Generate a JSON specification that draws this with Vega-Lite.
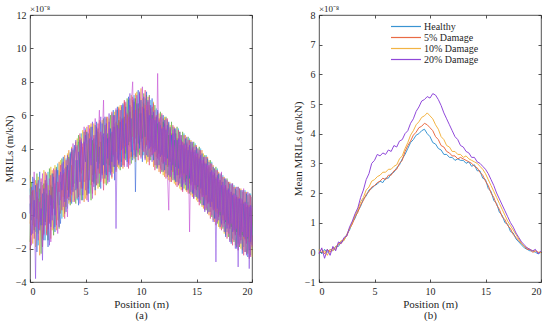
{
"$schema":"https://vega.github.io/schema/vega-lite/v6.json",
"background":"white",
"padding":{"left":2,"top":4,"right":4,"bottom":0},
"spacing":35,
"resolve":{"scale":{"color":"independent"},"legend":{"color":"independent"}},
"config":{
 "font":"Liberation Serif",
 "view":{"stroke":"#262626","strokeWidth":0.8},
 "axis":{"grid":false,"domain":false,"tickColor":"#262626","tickSize":-3,"tickWidth":0.8,"labelFont":"Liberation Serif","labelFontSize":10,"labelColor":"#262626","titleFont":"Liberation Serif","titleFontSize":11,"titleFontWeight":"normal","titleColor":"#262626","titleLineHeight":11.5},
 "axisX":{"labelPadding":7,"titlePadding":2},
 "axisY":{"labelPadding":7,"titlePadding":1},
 "legend":{"labelFont":"Liberation Serif","padding":0},
 "title":{"font":"Liberation Serif","fontSize":9,"fontWeight":"normal","color":"#262626","anchor":"start","frame":"group","offset":-4}
},
"datasets":{
"raw":[
{"p":0,"a":1.6,"b":-0.5,"c":2.4,"d":-1.6,"e":0.7,"f":-2.1,"g":1.2,"h":0.1},
{"p":0.125,"a":-0.3,"b":1.4,"c":0.9,"d":2.0,"e":-1.2,"f":0.5,"g":-1.8,"h":1.7},
{"p":0.25,"a":0.8,"b":-1.7,"c":-0.6,"d":1.1,"e":2.3,"f":1.5,"g":0.2,"h":-1.1},
{"p":0.375,"a":2.2,"b":0.6,"c":1.5,"d":-0.9,"e":-0.1,"f":-1.4,"g":2.6,"h":0.9},
{"p":0.5,"a":-1.0,"b":2.1,"c":-1.9,"d":0.3,"e":1.8,"f":0.4,"g":-0.7,"h":-3.8},
{"p":0.625,"a":1.1,"b":-0.2,"c":0.7,"d":2.5,"e":-2.2,"f":1.9,"g":1.4,"h":1.3},
{"p":0.75,"a":-1.8,"b":1.0,"c":2.3,"d":-1.1,"e":0.9,"f":-0.8,"g":-1.5,"h":2.1},
{"p":0.875,"a":0.5,"b":-2.4,"c":-0.4,"d":1.6,"e":2.6,"f":0.2,"g":0.8,"h":-0.9},
{"p":1,"a":2.0,"b":0.8,"c":1.1,"d":-2.3,"e":-0.6,"f":2.2,"g":-0.3,"h":0.4},
{"p":1.125,"a":-0.6,"b":1.8,"c":-1.4,"d":0.5,"e":1.3,"f":-1.9,"g":2.5,"h":-2.7},
{"p":1.25,"a":1.4,"b":-1.1,"c":2.7,"d":1.9,"e":-1.5,"f":0.9,"g":-1.2,"h":1.6},
{"p":1.375,"a":-1.5,"b":0.3,"c":0.2,"d":-0.4,"e":2.1,"f":2.6,"g":0.6,"h":-0.6},
{"p":1.5,"a":0.9,"b":2.5,"c":-1.1,"d":1.3,"e":0.1,"f":-1.2,"g":1.9,"h":2.4},
{"p":1.625,"a":2.6,"b":-0.8,"c":1.8,"d":-1.5,"e":-1.9,"f":1.2,"g":-0.9,"h":0.7},
{"p":1.75,"a":-0.4,"b":1.3,"c":0.4,"d":2.8,"e":1.5,"f":-0.5,"g":2.2,"h":-1.8},
{"p":1.875,"a":1.8,"b":-1.4,"c":2.9,"d":0.6,"e":-0.7,"f":2.4,"g":-1.6,"h":1.2},
{"p":2,"a":0.2,"b":2.7,"c":-0.9,"d":1.7,"e":2.5,"f":0.0,"g":1.0,"h":-0.3},
{"p":2.125,"a":2.5,"b":0.4,"c":1.6,"d":-1.2,"e":0.7,"f":2.8,"g":-0.8,"h":2.3},
{"p":2.25,"a":-0.7,"b":1.9,"c":3.0,"d":0.9,"e":-1.0,"f":1.1,"g":2.7,"h":0.0},
{"p":2.375,"a":1.3,"b":-0.9,"c":0.5,"d":2.9,"e":1.9,"f":-0.6,"g":0.3,"h":2.8},
{"p":2.5,"a":3.1,"b":1.5,"c":-0.3,"d":0.4,"e":2.7,"f":2.0,"g":-1.1,"h":1.0},
{"p":2.625,"a":0.6,"b":3.2,"c":2.2,"d":-0.8,"e":0.3,"f":1.4,"g":2.4,"h":-0.7},
{"p":2.75,"a":2.0,"b":0.1,"c":3.3,"d":1.8,"e":-0.5,"f":3.0,"g":0.9,"h":2.6},
{"p":2.875,"a":-0.2,"b":2.4,"c":1.0,"d":3.4,"e":2.2,"f":0.3,"g":3.1,"h":1.5},
{"p":3,"a":2.7,"b":1.1,"c":-0.1,"d":1.2,"e":3.5,"f":2.5,"g":0.5,"h":3.2},
{"p":3.125,"a":1.0,"b":3.6,"c":2.6,"d":0.1,"e":1.4,"f":-0.2,"g":2.8,"h":0.8},
{"p":3.25,"a":3.4,"b":0.5,"c":1.3,"d":2.9,"e":0.2,"f":3.3,"g":1.6,"h":2.1},
{"p":3.375,"a":0.4,"b":2.8,"c":3.7,"d":1.5,"e":3.0,"f":1.0,"g":-0.1,"h":3.6},
{"p":3.5,"a":2.3,"b":3.9,"c":0.7,"d":3.5,"e":1.1,"f":2.7,"g":3.4,"h":0.9},
{"p":3.625,"a":3.8,"b":1.3,"c":2.9,"d":0.6,"e":3.7,"f":0.8,"g":2.0,"h":3.0},
{"p":3.75,"a":1.5,"b":3.0,"c":4.1,"d":2.4,"e":0.7,"f":3.8,"g":1.2,"h":4.0},
{"p":3.875,"a":4.0,"b":0.8,"c":1.9,"d":3.9,"e":2.6,"f":1.7,"g":4.3,"h":1.4},
{"p":4,"a":1.9,"b":3.7,"c":0.9,"d":1.6,"e":4.2,"f":3.4,"g":0.8,"h":2.9},
{"p":4.125,"a":3.3,"b":4.4,"c":3.1,"d":0.7,"e":1.5,"f":4.1,"g":2.5,"h":4.5},
{"p":4.25,"a":0.9,"b":2.2,"c":4.6,"d":3.7,"e":3.3,"f":1.0,"g":4.2,"h":1.6},
{"p":4.375,"a":4.4,"b":1.1,"c":2.0,"d":4.8,"e":0.6,"f":3.2,"g":1.9,"h":3.8},
{"p":4.5,"a":2.6,"b":4.7,"c":1.2,"d":2.3,"e":4.5,"f":4.9,"g":0.7,"h":2.0},
{"p":4.625,"a":4.9,"b":2.5,"c":4.0,"d":0.9,"e":2.1,"f":1.6,"g":4.6,"h":4.4},
{"p":4.75,"a":1.6,"b":4.1,"c":5.1,"d":3.5,"e":0.9,"f":4.3,"g":2.7,"h":1.2},
{"p":4.875,"a":3.7,"b":0.8,"c":2.3,"d":5.0,"e":4.4,"f":2.0,"g":5.3,"h":3.6},
{"p":5,"a":5.2,"b":2.9,"c":1.0,"d":2.1,"e":3.2,"f":5.1,"g":1.5,"h":4.8},
{"p":5.125,"a":2.1,"b":5.3,"c":4.3,"d":1.2,"e":5.0,"f":0.9,"g":3.6,"h":2.3},
{"p":5.25,"a":4.5,"b":1.6,"c":2.7,"d":4.9,"e":1.3,"f":3.7,"g":5.4,"h":0.8},
{"p":5.375,"a":1.3,"b":3.9,"c":5.4,"d":2.6,"e":3.9,"f":5.2,"g":2.1,"h":4.6},
{"p":5.5,"a":3.4,"b":5.5,"c":1.8,"d":0.9,"e":5.3,"f":2.4,"g":4.7,"h":3.0},
{"p":5.625,"a":5.3,"b":2.4,"c":3.8,"d":4.5,"e":2.0,"f":1.3,"g":1.0,"h":5.6},
{"p":5.75,"a":2.0,"b":4.3,"c":5.5,"d":1.9,"e":4.6,"f":4.8,"g":3.3,"h":1.7},
{"p":5.875,"a":4.8,"b":1.2,"c":2.5,"d":5.4,"e":1.5,"f":3.0,"g":5.8,"h":3.9},
{"p":6,"a":1.8,"b":5.1,"c":4.2,"d":3.2,"e":5.6,"f":1.8,"g":2.2,"h":5.3},
{"p":6.125,"a":5.0,"b":3.5,"c":1.6,"d":5.2,"e":2.8,"f":5.5,"g":4.4,"h":1.9},
{"p":6.25,"a":3.1,"b":5.7,"c":4.9,"d":1.7,"e":4.1,"f":2.5,"g":6.3,"h":4.2},
{"p":6.375,"a":5.6,"b":2.1,"c":2.8,"d":4.4,"e":1.6,"f":5.0,"g":2.0,"h":5.9},
{"p":6.5,"a":2.2,"b":4.8,"c":5.7,"d":2.5,"e":5.5,"f":3.3,"g":4.6,"h":2.4},
{"p":6.625,"a":4.7,"b":1.9,"c":3.5,"d":5.8,"e":3.0,"f":1.5,"g":6.9,"h":4.9},
{"p":6.75,"a":2.6,"b":5.4,"c":1.9,"d":3.3,"e":5.9,"f":4.4,"g":2.5,"h":2.2},
{"p":6.875,"a":5.8,"b":3.1,"c":4.6,"d":1.8,"e":2.4,"f":5.9,"g":4.8,"h":5.5},
{"p":7,"a":3.0,"b":5.9,"c":2.3,"d":4.9,"e":4.6,"f":2.1,"g":1.9,"h":3.4},
{"p":7.125,"a":5.2,"b":2.6,"c":5.8,"d":3.0,"e":2.0,"f":4.7,"g":5.6,"h":6.1},
{"p":7.25,"a":2.4,"b":4.9,"c":3.1,"d":6.0,"e":5.2,"f":2.8,"g":3.5,"h":2.5},
{"p":7.375,"a":6.1,"b":2.2,"c":4.9,"d":2.6,"e":3.2,"f":6.2,"g":2.3,"h":5.0},
{"p":7.5,"a":3.5,"b":6.0,"c":2.5,"d":5.3,"e":6.3,"f":3.6,"g":5.9,"h":2.9},
{"p":7.625,"a":5.5,"b":3.3,"c":6.2,"d":2.9,"e":2.1,"f":5.3,"g":3.0,"h":6.0},
{"p":7.75,"a":2.7,"b":5.6,"c":3.8,"d":6.3,"e":4.9,"f":2.6,"g":6.4,"h":-0.8},
{"p":7.875,"a":6.3,"b":2.9,"c":5.5,"d":3.4,"e":6.5,"f":4.8,"g":3.3,"h":5.4},
{"p":8,"a":4.0,"b":6.5,"c":2.8,"d":5.7,"e":3.1,"f":6.4,"g":5.2,"h":3.0},
{"p":8.125,"a":5.9,"b":3.6,"c":6.6,"d":2.7,"e":5.6,"f":3.2,"g":2.9,"h":6.3},
{"p":8.25,"a":3.2,"b":5.8,"c":4.1,"d":6.5,"e":2.9,"f":5.7,"g":6.6,"h":3.9},
{"p":8.375,"a":6.6,"b":2.8,"c":5.2,"d":4.0,"e":6.7,"f":3.0,"g":4.2,"h":5.8},
{"p":8.5,"a":4.3,"b":6.8,"c":3.0,"d":5.9,"e":3.7,"f":6.9,"g":2.9,"h":3.4},
{"p":8.625,"a":6.2,"b":3.7,"c":6.7,"d":3.3,"e":5.5,"f":4.1,"g":6.8,"h":6.5},
{"p":8.75,"a":3.4,"b":6.0,"c":4.4,"d":7.0,"e":3.2,"f":6.1,"g":3.9,"h":2.9},
{"p":8.875,"a":6.9,"b":3.1,"c":6.3,"d":4.2,"e":7.1,"f":2.8,"g":5.9,"h":4.7},
{"p":9,"a":4.1,"b":7.0,"c":3.4,"d":6.2,"e":4.4,"f":6.6,"g":3.0,"h":7.3},
{"p":9.125,"a":6.5,"b":4.5,"c":7.2,"d":3.1,"e":5.8,"f":3.5,"g":6.7,"h":3.8},
{"p":9.25,"a":3.5,"b":6.3,"c":4.7,"d":6.9,"e":3.3,"f":7.1,"g":8.0,"h":5.6},
{"p":9.375,"a":7.2,"b":3.4,"c":6.1,"d":4.3,"e":6.8,"f":3.9,"g":3.6,"h":7.0},
{"p":9.5,"a":4.6,"b":7.3,"c":3.2,"d":7.0,"e":1.4,"f":6.3,"g":5.5,"h":3.5},
{"p":9.625,"a":6.6,"b":3.9,"c":7.4,"d":3.5,"e":6.2,"f":4.4,"g":7.2,"h":6.7},
{"p":9.75,"a":3.7,"b":6.4,"c":4.8,"d":6.7,"e":7.5,"f":3.3,"g":3.8,"h":4.3},
{"p":9.875,"a":7.1,"b":4.2,"c":6.5,"d":3.6,"e":4.0,"f":7.3,"g":6.1,"h":7.4},
{"p":10,"a":4.4,"b":7.6,"c":3.5,"d":6.1,"e":6.9,"f":4.6,"g":3.4,"h":5.0},
{"p":10.125,"a":6.8,"b":3.6,"c":7.0,"d":4.6,"e":3.2,"f":6.5,"g":7.7,"h":3.9},
{"p":10.25,"a":3.6,"b":6.7,"c":4.2,"d":7.3,"e":6.4,"f":3.8,"g":4.5,"h":7.1},
{"p":10.375,"a":7.0,"b":4.0,"c":6.6,"d":3.4,"e":4.7,"f":7.5,"g":3.3,"h":4.4},
{"p":10.5,"a":4.1,"b":7.2,"c":3.1,"d":6.3,"e":7.4,"f":4.2,"g":6.6,"h":3.6},
{"p":10.625,"a":6.3,"b":3.2,"c":7.1,"d":4.5,"e":3.5,"f":6.8,"g":3.9,"h":6.9},
{"p":10.75,"a":3.3,"b":6.6,"c":4.4,"d":7.2,"e":6.0,"f":3.0,"g":7.1,"h":4.0},
{"p":10.875,"a":6.9,"b":3.8,"c":6.2,"d":3.3,"e":4.1,"f":6.4,"g":3.5,"h":6.6},
{"p":11,"a":3.9,"b":6.5,"c":3.6,"d":6.0,"e":7.0,"f":3.6,"g":5.8,"h":3.2},
{"p":11.125,"a":6.1,"b":2.9,"c":6.8,"d":4.0,"e":3.3,"f":6.7,"g":3.7,"h":6.2},
{"p":11.25,"a":3.0,"b":5.9,"c":4.0,"d":6.6,"e":5.7,"f":2.7,"g":6.3,"h":3.8},
{"p":11.375,"a":6.4,"b":3.5,"c":5.8,"d":2.8,"e":3.9,"f":6.0,"g":3.0,"h":5.9},
{"p":11.5,"a":3.6,"b":6.2,"c":2.9,"d":5.5,"e":6.3,"f":3.4,"g":8.5,"h":2.8},
{"p":11.625,"a":5.7,"b":2.6,"c":6.1,"d":3.7,"e":3.0,"f":5.8,"g":3.3,"h":5.6},
{"p":11.75,"a":2.8,"b":5.5,"c":3.5,"d":6.2,"e":5.4,"f":2.5,"g":5.9,"h":3.5},
{"p":11.875,"a":6.0,"b":3.2,"c":5.3,"d":2.6,"e":3.6,"f":6.1,"g":2.7,"h":5.2},
{"p":12,"a":3.1,"b":5.8,"c":2.4,"d":5.6,"e":6.0,"f":3.1,"g":5.3,"h":2.6},
{"p":12.125,"a":5.4,"b":2.3,"c":5.9,"d":3.5,"e":2.7,"f":5.5,"g":3.2,"h":5.7},
{"p":12.25,"a":2.5,"b":5.2,"c":3.3,"d":5.9,"e":5.1,"f":2.2,"g":5.8,"h":3.0},
{"p":12.375,"a":5.7,"b":2.9,"c":5.0,"d":2.3,"e":3.4,"f":5.8,"g":2.5,"h":5.4},
{"p":12.5,"a":2.9,"b":5.5,"c":2.1,"d":4.8,"e":5.6,"f":3.0,"g":0.3,"h":2.4},
{"p":12.625,"a":5.1,"b":2.0,"c":5.4,"d":3.2,"e":2.3,"f":5.2,"g":4.9,"h":5.3},
{"p":12.75,"a":2.2,"b":4.9,"c":3.0,"d":5.6,"e":4.8,"f":2.0,"g":2.4,"h":2.7},
{"p":12.875,"a":5.3,"b":2.6,"c":4.7,"d":2.1,"e":3.0,"f":5.4,"g":5.1,"h":4.9},
{"p":13,"a":2.6,"b":5.3,"c":1.9,"d":4.5,"e":5.2,"f":2.4,"g":2.2,"h":2.1},
{"p":13.125,"a":4.9,"b":1.8,"c":5.1,"d":2.9,"e":2.0,"f":4.9,"g":4.6,"h":5.2},
{"p":13.25,"a":2.0,"b":4.6,"c":2.7,"d":5.3,"e":4.5,"f":1.7,"g":2.9,"h":2.4},
{"p":13.375,"a":5.2,"b":2.4,"c":4.4,"d":1.8,"e":2.8,"f":5.1,"g":1.8,"h":4.6},
{"p":13.5,"a":2.4,"b":5.0,"c":1.6,"d":4.2,"e":5.0,"f":2.2,"g":4.8,"h":1.9},
{"p":13.625,"a":4.6,"b":1.5,"c":4.8,"d":2.5,"e":1.7,"f":4.5,"g":2.3,"h":4.8},
{"p":13.75,"a":1.8,"b":4.4,"c":2.4,"d":5.0,"e":4.2,"f":1.4,"g":4.4,"h":1.5},
{"p":13.875,"a":4.9,"b":2.1,"c":4.3,"d":1.6,"e":2.5,"f":4.8,"g":1.9,"h":4.3},
{"p":14,"a":2.1,"b":4.8,"c":1.5,"d":4.0,"e":4.6,"f":2.0,"g":4.2,"h":1.8},
{"p":14.125,"a":4.4,"b":1.4,"c":4.6,"d":2.2,"e":1.5,"f":4.3,"g":2.4,"h":4.7},
{"p":14.25,"a":1.5,"b":4.1,"c":2.1,"d":4.7,"e":3.9,"f":1.3,"g":4.5,"h":1.6},
{"p":14.375,"a":4.6,"b":1.9,"c":3.9,"d":1.3,"e":2.2,"f":4.5,"g":-1.0,"h":4.2},
{"p":14.5,"a":1.9,"b":4.5,"c":1.2,"d":3.8,"e":4.4,"f":1.8,"g":3.9,"h":1.4},
{"p":14.625,"a":4.1,"b":1.1,"c":4.3,"d":2.0,"e":1.3,"f":4.0,"g":1.5,"h":4.4},
{"p":14.75,"a":1.3,"b":3.9,"c":1.8,"d":4.4,"e":3.8,"f":1.0,"g":4.1,"h":1.0},
{"p":14.875,"a":4.3,"b":1.6,"c":3.6,"d":1.1,"e":1.8,"f":4.2,"g":1.2,"h":3.9},
{"p":15,"a":1.6,"b":4.2,"c":0.9,"d":3.5,"e":4.1,"f":1.5,"g":3.7,"h":1.1},
{"p":15.125,"a":3.8,"b":0.8,"c":4.0,"d":1.7,"e":1.0,"f":3.7,"g":1.8,"h":4.0},
{"p":15.25,"a":1.0,"b":3.5,"c":1.5,"d":4.1,"e":3.4,"f":0.6,"g":3.9,"h":0.8},
{"p":15.375,"a":4.0,"b":1.3,"c":3.3,"d":0.7,"e":1.6,"f":3.9,"g":0.9,"h":3.6},
{"p":15.5,"a":1.2,"b":3.9,"c":0.5,"d":3.1,"e":3.7,"f":1.1,"g":3.3,"h":0.6},
{"p":15.625,"a":3.4,"b":0.4,"c":3.7,"d":1.2,"e":0.6,"f":3.3,"g":1.1,"h":3.5},
{"p":15.75,"a":0.6,"b":3.2,"c":1.0,"d":3.6,"e":3.1,"f":0.3,"g":3.5,"h":0.2},
{"p":15.875,"a":3.6,"b":0.9,"c":2.9,"d":0.3,"e":1.2,"f":3.5,"g":0.4,"h":3.1},
{"p":16,"a":0.8,"b":3.5,"c":0.1,"d":2.8,"e":3.4,"f":0.7,"g":3.0,"h":0.1},
{"p":16.125,"a":2.9,"b":0.0,"c":3.3,"d":0.8,"e":0.2,"f":3.0,"g":0.7,"h":3.2},
{"p":16.25,"a":0.2,"b":2.8,"c":0.6,"d":3.3,"e":2.6,"f":-0.2,"g":3.1,"h":0.5},
{"p":16.375,"a":3.2,"b":0.5,"c":2.5,"d":-0.1,"e":0.8,"f":3.1,"g":0.0,"h":2.7},
{"p":16.5,"a":0.4,"b":3.0,"c":-0.3,"d":2.4,"e":2.9,"f":0.3,"g":2.6,"h":-0.4},
{"p":16.625,"a":2.5,"b":-0.4,"c":2.8,"d":0.4,"e":-0.2,"f":2.5,"g":0.3,"h":2.8},
{"p":16.75,"a":-0.2,"b":2.3,"c":0.2,"d":2.9,"e":2.2,"f":-0.6,"g":2.7,"h":-2.8},
{"p":16.875,"a":2.8,"b":0.1,"c":2.1,"d":-0.5,"e":0.4,"f":2.7,"g":-0.4,"h":2.4},
{"p":17,"a":0.1,"b":2.6,"c":-0.7,"d":2.0,"e":2.5,"f":-0.1,"g":2.2,"h":-0.3},
{"p":17.125,"a":2.1,"b":-0.8,"c":2.4,"d":0.0,"e":-0.7,"f":2.1,"g":0.2,"h":2.5},
{"p":17.25,"a":-0.6,"b":2.0,"c":-0.2,"d":2.5,"e":1.8,"f":-0.9,"g":2.6,"h":-0.5},
{"p":17.375,"a":2.4,"b":-0.3,"c":1.7,"d":-0.8,"e":0.0,"f":2.3,"g":-0.7,"h":2.0},
{"p":17.5,"a":-0.3,"b":2.3,"c":-1.1,"d":1.6,"e":2.2,"f":-0.5,"g":1.8,"h":-1.0},
{"p":17.625,"a":1.7,"b":-1.2,"c":2.1,"d":-0.4,"e":-1.3,"f":1.8,"g":-0.3,"h":2.2},
{"p":17.75,"a":-1.0,"b":1.6,"c":-0.6,"d":2.2,"e":1.5,"f":-1.4,"g":2.1,"h":-0.8},
{"p":17.875,"a":2.0,"b":-0.6,"c":1.4,"d":-1.3,"e":-0.5,"f":2.0,"g":-1.1,"h":1.6},
{"p":18,"a":-0.8,"b":2.0,"c":-1.5,"d":1.3,"e":1.9,"f":-0.8,"g":1.5,"h":-1.6},
{"p":18.125,"a":1.4,"b":-1.6,"c":1.8,"d":-0.7,"e":-1.7,"f":1.4,"g":-0.5,"h":1.9},
{"p":18.25,"a":-1.4,"b":1.3,"c":-0.9,"d":1.9,"e":1.2,"f":-1.8,"g":1.9,"h":-1.0},
{"p":18.375,"a":1.8,"b":-1.0,"c":1.1,"d":-1.6,"e":-0.9,"f":1.7,"g":-1.5,"h":1.3},
{"p":18.5,"a":-1.1,"b":1.7,"c":-1.8,"d":1.0,"e":1.6,"f":-1.2,"g":1.2,"h":-2.0},
{"p":18.625,"a":1.2,"b":-1.9,"c":1.5,"d":-1.0,"e":-2.0,"f":1.1,"g":-0.8,"h":1.7},
{"p":18.75,"a":-1.7,"b":1.1,"c":-1.2,"d":1.7,"e":1.0,"f":-2.1,"g":1.7,"h":-3.1},
{"p":18.875,"a":1.6,"b":-1.3,"c":0.9,"d":-1.9,"e":-1.2,"f":1.6,"g":-1.8,"h":1.0},
{"p":19,"a":-1.3,"b":1.6,"c":-2.0,"d":0.7,"e":1.5,"f":-1.5,"g":1.0,"h":-1.7},
{"p":19.125,"a":1.0,"b":-2.1,"c":1.4,"d":-1.2,"e":-2.3,"f":0.9,"g":-1.0,"h":1.5},
{"p":19.25,"a":-1.9,"b":0.8,"c":-1.4,"d":1.5,"e":0.7,"f":-2.4,"g":1.6,"h":-1.3},
{"p":19.375,"a":1.5,"b":-1.5,"c":0.6,"d":-2.2,"e":-1.4,"f":1.4,"g":-2.2,"h":0.8},
{"p":19.5,"a":-1.5,"b":1.4,"c":-2.3,"d":0.5,"e":1.3,"f":-1.7,"g":0.7,"h":-2.4},
{"p":19.625,"a":0.8,"b":-2.3,"c":1.2,"d":-1.4,"e":-2.5,"f":0.6,"g":-1.3,"h":1.4},
{"p":19.75,"a":-2.1,"b":0.6,"c":-1.6,"d":1.3,"e":0.5,"f":-2.6,"g":1.3,"h":-3.2},
{"p":19.875,"a":1.3,"b":-1.7,"c":0.4,"d":-2.4,"e":-1.6,"f":1.2,"g":-2.5,"h":0.6},
{"p":20,"a":-1.2,"b":1.1,"c":-2.5,"d":0.3,"e":1.1,"f":-1.9,"g":0.5,"h":-1.8}
],
"mean":[
{"p":0,"Healthy":0.05,"5% Damage":0.0,"10% Damage":0.1,"20% Damage":-0.05},
{"p":0.25,"Healthy":-0.05,"5% Damage":0.1,"10% Damage":0.0,"20% Damage":0.15},
{"p":0.5,"Healthy":0.1,"5% Damage":-0.05,"10% Damage":0.05,"20% Damage":-0.2},
{"p":0.75,"Healthy":0.0,"5% Damage":0.1,"10% Damage":-0.1,"20% Damage":0.1},
{"p":1,"Healthy":0.1,"5% Damage":0.0,"10% Damage":0.1,"20% Damage":-0.1},
{"p":1.25,"Healthy":0.05,"5% Damage":0.15,"10% Damage":0.05,"20% Damage":0.2},
{"p":1.5,"Healthy":0.2,"5% Damage":0.1,"10% Damage":0.2,"20% Damage":0.05},
{"p":1.75,"Healthy":0.2,"5% Damage":0.3,"10% Damage":0.25,"20% Damage":0.35},
{"p":2,"Healthy":0.35,"5% Damage":0.3,"10% Damage":0.4,"20% Damage":0.3},
{"p":2.25,"Healthy":0.4,"5% Damage":0.45,"10% Damage":0.4,"20% Damage":0.5},
{"p":2.5,"Healthy":0.6,"5% Damage":0.55,"10% Damage":0.6,"20% Damage":0.55},
{"p":2.75,"Healthy":0.75,"5% Damage":0.8,"10% Damage":0.8,"20% Damage":0.85},
{"p":3,"Healthy":1.0,"5% Damage":0.95,"10% Damage":1.0,"20% Damage":1.05},
{"p":3.25,"Healthy":1.15,"5% Damage":1.2,"10% Damage":1.25,"20% Damage":1.3},
{"p":3.5,"Healthy":1.4,"5% Damage":1.35,"10% Damage":1.45,"20% Damage":1.5},
{"p":3.75,"Healthy":1.55,"5% Damage":1.6,"10% Damage":1.7,"20% Damage":1.85},
{"p":4,"Healthy":1.8,"5% Damage":1.75,"10% Damage":1.85,"20% Damage":2.1},
{"p":4.25,"Healthy":1.9,"5% Damage":1.95,"10% Damage":2.1,"20% Damage":2.45},
{"p":4.5,"Healthy":2.1,"5% Damage":2.05,"10% Damage":2.2,"20% Damage":2.65},
{"p":4.75,"Healthy":2.15,"5% Damage":2.2,"10% Damage":2.4,"20% Damage":3.0},
{"p":5,"Healthy":2.25,"5% Damage":2.25,"10% Damage":2.45,"20% Damage":3.1},
{"p":5.25,"Healthy":2.3,"5% Damage":2.35,"10% Damage":2.55,"20% Damage":3.3},
{"p":5.5,"Healthy":2.4,"5% Damage":2.4,"10% Damage":2.6,"20% Damage":3.25},
{"p":5.75,"Healthy":2.35,"5% Damage":2.5,"10% Damage":2.7,"20% Damage":3.35},
{"p":6,"Healthy":2.5,"5% Damage":2.45,"10% Damage":2.7,"20% Damage":3.3},
{"p":6.25,"Healthy":2.5,"5% Damage":2.6,"10% Damage":2.8,"20% Damage":3.45},
{"p":6.5,"Healthy":2.65,"5% Damage":2.6,"10% Damage":2.8,"20% Damage":3.4},
{"p":6.75,"Healthy":2.7,"5% Damage":2.75,"10% Damage":2.9,"20% Damage":3.6},
{"p":7,"Healthy":2.85,"5% Damage":2.8,"10% Damage":2.95,"20% Damage":3.55},
{"p":7.25,"Healthy":2.95,"5% Damage":3.0,"10% Damage":3.15,"20% Damage":3.75},
{"p":7.5,"Healthy":3.15,"5% Damage":3.1,"10% Damage":3.25,"20% Damage":3.8},
{"p":7.75,"Healthy":3.3,"5% Damage":3.4,"10% Damage":3.5,"20% Damage":4.0},
{"p":8,"Healthy":3.5,"5% Damage":3.6,"10% Damage":3.7,"20% Damage":4.1},
{"p":8.25,"Healthy":3.7,"5% Damage":3.75,"10% Damage":3.95,"20% Damage":4.35},
{"p":8.5,"Healthy":3.8,"5% Damage":3.95,"10% Damage":4.1,"20% Damage":4.5},
{"p":8.75,"Healthy":3.95,"5% Damage":4.05,"10% Damage":4.3,"20% Damage":4.75},
{"p":9,"Healthy":4.0,"5% Damage":4.2,"10% Damage":4.4,"20% Damage":4.9},
{"p":9.25,"Healthy":4.1,"5% Damage":4.25,"10% Damage":4.55,"20% Damage":5.1},
{"p":9.5,"Healthy":4.15,"5% Damage":4.35,"10% Damage":4.6,"20% Damage":5.15},
{"p":9.75,"Healthy":4.0,"5% Damage":4.3,"10% Damage":4.7,"20% Damage":5.25},
{"p":10,"Healthy":3.9,"5% Damage":4.2,"10% Damage":4.6,"20% Damage":5.2},
{"p":10.25,"Healthy":3.7,"5% Damage":4.1,"10% Damage":4.5,"20% Damage":5.35},
{"p":10.5,"Healthy":3.65,"5% Damage":3.9,"10% Damage":4.3,"20% Damage":5.3},
{"p":10.75,"Healthy":3.5,"5% Damage":3.8,"10% Damage":4.15,"20% Damage":5.15},
{"p":11,"Healthy":3.45,"5% Damage":3.6,"10% Damage":3.9,"20% Damage":4.95},
{"p":11.25,"Healthy":3.3,"5% Damage":3.55,"10% Damage":3.8,"20% Damage":4.7},
{"p":11.5,"Healthy":3.3,"5% Damage":3.4,"10% Damage":3.6,"20% Damage":4.5},
{"p":11.75,"Healthy":3.2,"5% Damage":3.35,"10% Damage":3.55,"20% Damage":4.3},
{"p":12,"Healthy":3.2,"5% Damage":3.25,"10% Damage":3.4,"20% Damage":4.1},
{"p":12.25,"Healthy":3.1,"5% Damage":3.25,"10% Damage":3.4,"20% Damage":3.9},
{"p":12.5,"Healthy":3.15,"5% Damage":3.15,"10% Damage":3.3,"20% Damage":3.8},
{"p":12.75,"Healthy":3.1,"5% Damage":3.2,"10% Damage":3.3,"20% Damage":3.6},
{"p":13,"Healthy":3.1,"5% Damage":3.15,"10% Damage":3.2,"20% Damage":3.55},
{"p":13.25,"Healthy":3.0,"5% Damage":3.1,"10% Damage":3.25,"20% Damage":3.4},
{"p":13.5,"Healthy":3.05,"5% Damage":3.05,"10% Damage":3.15,"20% Damage":3.35},
{"p":13.75,"Healthy":2.9,"5% Damage":3.0,"10% Damage":3.1,"20% Damage":3.2},
{"p":14,"Healthy":2.95,"5% Damage":2.9,"10% Damage":3.05,"20% Damage":3.2},
{"p":14.25,"Healthy":2.75,"5% Damage":2.85,"10% Damage":3.0,"20% Damage":3.05},
{"p":14.5,"Healthy":2.75,"5% Damage":2.7,"10% Damage":2.9,"20% Damage":3.0},
{"p":14.75,"Healthy":2.5,"5% Damage":2.6,"10% Damage":2.8,"20% Damage":2.9},
{"p":15,"Healthy":2.45,"5% Damage":2.4,"10% Damage":2.65,"20% Damage":2.8},
{"p":15.25,"Healthy":2.15,"5% Damage":2.25,"10% Damage":2.45,"20% Damage":2.65},
{"p":15.5,"Healthy":2.05,"5% Damage":2.0,"10% Damage":2.25,"20% Damage":2.45},
{"p":15.75,"Healthy":1.75,"5% Damage":1.85,"10% Damage":2.05,"20% Damage":2.25},
{"p":16,"Healthy":1.65,"5% Damage":1.6,"10% Damage":1.85,"20% Damage":2.0},
{"p":16.25,"Healthy":1.35,"5% Damage":1.45,"10% Damage":1.65,"20% Damage":1.8},
{"p":16.5,"Healthy":1.25,"5% Damage":1.2,"10% Damage":1.45,"20% Damage":1.6},
{"p":16.75,"Healthy":1.0,"5% Damage":1.1,"10% Damage":1.25,"20% Damage":1.4},
{"p":17,"Healthy":0.95,"5% Damage":0.9,"10% Damage":1.05,"20% Damage":1.2},
{"p":17.25,"Healthy":0.7,"5% Damage":0.8,"10% Damage":0.9,"20% Damage":1.0},
{"p":17.5,"Healthy":0.65,"5% Damage":0.6,"10% Damage":0.75,"20% Damage":0.85},
{"p":17.75,"Healthy":0.45,"5% Damage":0.5,"10% Damage":0.6,"20% Damage":0.65},
{"p":18,"Healthy":0.35,"5% Damage":0.4,"10% Damage":0.45,"20% Damage":0.5},
{"p":18.25,"Healthy":0.25,"5% Damage":0.3,"10% Damage":0.3,"20% Damage":0.35},
{"p":18.5,"Healthy":0.15,"5% Damage":0.2,"10% Damage":0.2,"20% Damage":0.25},
{"p":18.75,"Healthy":0.1,"5% Damage":0.1,"10% Damage":0.15,"20% Damage":0.15},
{"p":19,"Healthy":0.05,"5% Damage":0.1,"10% Damage":0.1,"20% Damage":0.1},
{"p":19.25,"Healthy":0.05,"5% Damage":0.0,"10% Damage":0.05,"20% Damage":0.05},
{"p":19.5,"Healthy":0.0,"5% Damage":0.05,"10% Damage":0.05,"20% Damage":0.1},
{"p":19.75,"Healthy":-0.05,"5% Damage":0.0,"10% Damage":0.0,"20% Damage":-0.05},
{"p":20,"Healthy":0.0,"5% Damage":0.0,"10% Damage":0.0,"20% Damage":0.05}
]
},
"hconcat":[
{
 "width":222,"height":267,
 "title":{"text":"×10⁻⁸"},
 "data":{"name":"raw"},
 "transform":[{"fold":["a","b","c","d","e","f","g","h"],"as":["s","v"]}],
 "resolve":{"axis":{"x":"independent","y":"independent"}},
 "layer":[
  {"mark":{"type":"line","strokeWidth":0.6,"opacity":0.9},
   "encoding":{
    "x":{"field":"p","type":"quantitative","scale":{"domain":[0,20]},"axis":{"values":[0,5,10,15,20],"title":["Position (m)","(a)"]}},
    "y":{"field":"v","type":"quantitative","scale":{"domain":[-4,12]},"axis":{"values":[-4,-2,0,2,4,6,8,10,12],"title":"MRILs (m/kN)"}},
    "color":{"field":"s","type":"nominal","scale":{"domain":["a","b","c","d","e","f","g","h"],"range":["#3ab0e0","#f08a2a","#e6c21e","#55a834","#2f5fd6","#e0407a","#c040d0","#8040e0"]},"legend":null}
   }},
  {"mark":{"type":"point","opacity":0},
   "encoding":{
    "x":{"field":"p","type":"quantitative","scale":{"domain":[0,20]},"axis":{"orient":"top","values":[0,5,10,15,20],"labels":false,"title":null}},
    "y":{"field":"v","type":"quantitative","scale":{"domain":[-4,12]},"axis":{"orient":"right","values":[-4,-2,0,2,4,6,8,10,12],"labels":false,"title":null}}
   }}
 ]
},
{
 "width":222,"height":267,
 "title":{"text":"×10⁻⁸"},
 "data":{"name":"mean"},
 "transform":[{"fold":["Healthy","5% Damage","10% Damage","20% Damage"],"as":["s","v"]}],
 "resolve":{"axis":{"x":"independent","y":"independent"}},
 "layer":[
  {"mark":{"type":"line","strokeWidth":1,"opacity":0.95},
   "encoding":{
    "x":{"field":"p","type":"quantitative","scale":{"domain":[0,20]},"axis":{"values":[0,5,10,15,20],"title":["Position (m)","(b)"]}},
    "y":{"field":"v","type":"quantitative","scale":{"domain":[-1,8]},"axis":{"values":[-1,0,1,2,3,4,5,6,7,8],"title":"Mean MRILs (m/kN)"}},
    "color":{"field":"s","type":"nominal","scale":{"domain":["Healthy","5% Damage","10% Damage","20% Damage"],"range":["#2f8fd0","#e8643c","#f2b03a","#8a3fd8"]},
     "legend":{"title":null,"orient":"none","legendX":81,"legendY":5.5,"symbolType":"M-3,0H3","symbolSize":100,"symbolStrokeWidth":1.2,"labelFontSize":10,"labelColor":"#262626","rowPadding":-1,"labelOffset":12}}
   }},
  {"mark":{"type":"point","opacity":0},
   "encoding":{
    "x":{"field":"p","type":"quantitative","scale":{"domain":[0,20]},"axis":{"orient":"top","values":[0,5,10,15,20],"labels":false,"title":null}},
    "y":{"field":"v","type":"quantitative","scale":{"domain":[-1,8]},"axis":{"orient":"right","values":[-1,0,1,2,3,4,5,6,7,8],"labels":false,"title":null}}
   }}
 ]
}
]
}
